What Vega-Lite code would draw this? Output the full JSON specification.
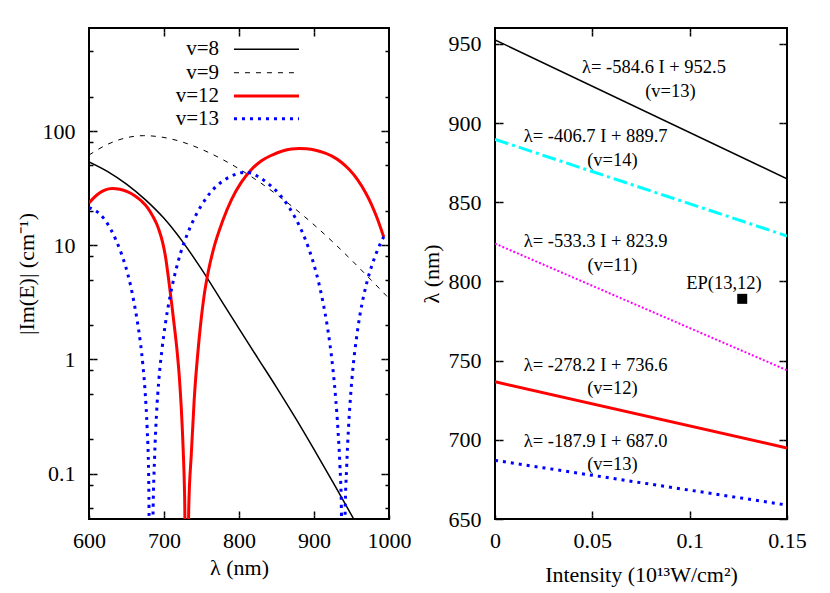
{
  "$schema": "https://vega.github.io/schema/vega-lite/v6.json",
  "background": "white",
  "padding": {"left": 14, "top": 26, "right": 5, "bottom": 5},
  "spacing": 106,
  "bounds": "flush",
  "config": {
    "font": "Liberation Serif",
    "view": {"stroke": "black", "strokeWidth": 2},
    "axis": {"grid": false, "domain": false, "ticks": true, "labelFont": "Liberation Serif", "labelFontSize": 22, "labelColor": "black", "titleFont": "Liberation Serif", "titleFontSize": 22, "titleFontWeight": "normal", "titleColor": "black", "tickColor": "black", "tickWidth": 1.5, "tickOpacity": 1, "labelFlush": false, "labelOverlap": false, "labelBound": false}
  },
  "datasets": {
    "curves": [
      {"s":"v=8","x":600,"y":53.8},{"s":"v=8","x":625,"y":44.2},{"s":"v=8","x":650,"y":34.3},{"s":"v=8","x":675,"y":25.1},{"s":"v=8","x":700,"y":17.2},{"s":"v=8","x":725,"y":10.7},{"s":"v=8","x":750,"y":6.17},{"s":"v=8","x":775,"y":3.39},{"s":"v=8","x":800,"y":1.86},{"s":"v=8","x":825,"y":1.028},{"s":"v=8","x":850,"y":0.57},{"s":"v=8","x":875,"y":0.309},{"s":"v=8","x":900,"y":0.163},{"s":"v=8","x":925,"y":0.0847},{"s":"v=8","x":950,"y":0.0433},{"s":"v=8","x":975,"y":0.0218},
      {"s":"v=9","x":600,"y":61.7},{"s":"v=9","x":625,"y":76.7},{"s":"v=9","x":640,"y":83.9},{"s":"v=9","x":656,"y":89.1},{"s":"v=9","x":673,"y":91.2},{"s":"v=9","x":700,"y":87.9},{"s":"v=9","x":725,"y":80.0},{"s":"v=9","x":750,"y":69.3},{"s":"v=9","x":775,"y":57.8},{"s":"v=9","x":800,"y":46.7},{"s":"v=9","x":825,"y":36.6},{"s":"v=9","x":850,"y":27.9},{"s":"v=9","x":875,"y":20.8},{"s":"v=9","x":900,"y":15.1},{"s":"v=9","x":925,"y":10.7},{"s":"v=9","x":950,"y":7.41},{"s":"v=9","x":975,"y":5.05},{"s":"v=9","x":1000,"y":3.42},
      {"s":"v=12","x":600,"y":23.4},{"s":"v=12","x":607,"y":26.3},{"s":"v=12","x":614,"y":28.7},{"s":"v=12","x":621,"y":30.4},{"s":"v=12","x":631,"y":31.4},{"s":"v=12","x":641,"y":30.9},{"s":"v=12","x":651,"y":29.5},{"s":"v=12","x":661,"y":27.2},{"s":"v=12","x":670,"y":24.4},{"s":"v=12","x":678,"y":21.4},{"s":"v=12","x":685,"y":18.0},{"s":"v=12","x":690,"y":15.5},{"s":"v=12","x":694,"y":13.2},{"s":"v=12","x":698,"y":10.7},{"s":"v=12","x":702,"y":7.94},{"s":"v=12","x":706,"y":5.13},{"s":"v=12","x":710,"y":3.16},{"s":"v=12","x":714,"y":1.905},{"s":"v=12","x":717.5,"y":1.175},{"s":"v=12","x":720.5,"y":0.692},{"s":"v=12","x":723,"y":0.38},{"s":"v=12","x":725.5,"y":0.166},{"s":"v=12","x":727.5,"y":0.063},{"s":"v=12","x":730.5,"y":0.001},{"s":"v=12","x":733,"y":0.05},{"s":"v=12","x":736.4,"y":0.148},{"s":"v=12","x":740.2,"y":0.437},{"s":"v=12","x":746.7,"y":1.479},{"s":"v=12","x":753.3,"y":3.55},{"s":"v=12","x":760,"y":6.31},{"s":"v=12","x":767,"y":9.77},{"s":"v=12","x":778,"y":16.2},{"s":"v=12","x":790,"y":25.1},{"s":"v=12","x":803,"y":35.5},{"s":"v=12","x":816,"y":45.7},{"s":"v=12","x":830,"y":55.0},{"s":"v=12","x":844,"y":61.7},{"s":"v=12","x":858,"y":67.0},{"s":"v=12","x":870,"y":69.7},{"s":"v=12","x":880,"y":70.5},{"s":"v=12","x":890,"y":70.0},{"s":"v=12","x":902,"y":68.0},{"s":"v=12","x":914,"y":64.5},{"s":"v=12","x":924,"y":60.3},{"s":"v=12","x":936,"y":53.6},{"s":"v=12","x":947,"y":46.0},{"s":"v=12","x":958,"y":37.6},{"s":"v=12","x":969,"y":28.7},{"s":"v=12","x":977,"y":22.5},{"s":"v=12","x":984,"y":17.4},{"s":"v=12","x":993,"y":11.8},
      {"s":"v=13","x":600,"y":21.4},{"s":"v=13","x":608,"y":20.2},{"s":"v=13","x":615,"y":18.6},{"s":"v=13","x":622,"y":16.4},{"s":"v=13","x":629,"y":13.8},{"s":"v=13","x":636,"y":11.1},{"s":"v=13","x":643,"y":8.51},{"s":"v=13","x":649,"y":6.46},{"s":"v=13","x":655,"y":4.57},{"s":"v=13","x":660,"y":3.16},{"s":"v=13","x":664.5,"y":2.14},{"s":"v=13","x":668.5,"y":1.41},{"s":"v=13","x":672,"y":0.871},{"s":"v=13","x":675,"y":0.501},{"s":"v=13","x":677.5,"y":0.251},{"s":"v=13","x":679.5,"y":0.1},{"s":"v=13","x":682.5,"y":0.001},{"s":"v=13","x":685.5,"y":0.0501},{"s":"v=13","x":687.5,"y":0.141},{"s":"v=13","x":690,"y":0.331},{"s":"v=13","x":693,"y":0.646},{"s":"v=13","x":697,"y":1.175},{"s":"v=13","x":702,"y":2.09},{"s":"v=13","x":708,"y":3.55},{"s":"v=13","x":715,"y":5.75},{"s":"v=13","x":722,"y":8.51},{"s":"v=13","x":730,"y":12.0},{"s":"v=13","x":740,"y":17.0},{"s":"v=13","x":750,"y":22.4},{"s":"v=13","x":760,"y":27.9},{"s":"v=13","x":772,"y":33.9},{"s":"v=13","x":785,"y":38.9},{"s":"v=13","x":797,"y":42.2},{"s":"v=13","x":807,"y":43.5},{"s":"v=13","x":816,"y":42.9},{"s":"v=13","x":826,"y":39.8},{"s":"v=13","x":836,"y":35.9},{"s":"v=13","x":846,"y":31.6},{"s":"v=13","x":856,"y":26.9},{"s":"v=13","x":866,"y":21.9},{"s":"v=13","x":875,"y":17.4},{"s":"v=13","x":884,"y":13.2},{"s":"v=13","x":892,"y":9.77},{"s":"v=13","x":899,"y":7.08},{"s":"v=13","x":906,"y":4.79},{"s":"v=13","x":912,"y":3.16},{"s":"v=13","x":917,"y":2.09},{"s":"v=13","x":921.5,"y":1.32},{"s":"v=13","x":925.5,"y":0.794},{"s":"v=13","x":929,"y":0.447},{"s":"v=13","x":932,"y":0.24},{"s":"v=13","x":934.5,"y":0.12},{"s":"v=13","x":936.5,"y":0.0501},{"s":"v=13","x":939,"y":0.001},{"s":"v=13","x":941.5,"y":0.0447},{"s":"v=13","x":943.5,"y":0.112},{"s":"v=13","x":946,"y":0.251},{"s":"v=13","x":949,"y":0.501},{"s":"v=13","x":952.5,"y":0.912},{"s":"v=13","x":956.5,"y":1.51},{"s":"v=13","x":961,"y":2.4},{"s":"v=13","x":966,"y":3.55},{"s":"v=13","x":971.5,"y":5.01},{"s":"v=13","x":977.5,"y":6.76},{"s":"v=13","x":984.5,"y":9.02},{"s":"v=13","x":993,"y":11.9}
    ],
    "keys": [
      {"s":"v=8","y":520.9},{"s":"v=9","y":324.6},{"s":"v=12","y":202.8},{"s":"v=13","y":128.2}
    ],
    "fits": [
      {"k":"a","I":0,"lam":952.5},{"k":"a","I":0.15,"lam":864.81},
      {"k":"b","I":0,"lam":889.7},{"k":"b","I":0.15,"lam":828.695},
      {"k":"c","I":0,"lam":823.9},{"k":"c","I":0.15,"lam":743.905},
      {"k":"d","I":0,"lam":736.6},{"k":"d","I":0.15,"lam":694.87},
      {"k":"e","I":0,"lam":687.0},{"k":"e","I":0.15,"lam":658.815}
    ],
    "notes": [
      {"t":"λ= -584.6 I + 952.5","I":0.0817,"lam":935.3},
      {"t":"(v=13)","I":0.0901,"lam":920.4},
      {"t":"λ= -406.7 I + 889.7","I":0.0517,"lam":891.6},
      {"t":"(v=14)","I":0.0603,"lam":876.8},
      {"t":"λ= -533.3 I + 823.9","I":0.0517,"lam":825.5},
      {"t":"(v=11)","I":0.0603,"lam":810.1},
      {"t":"λ= -278.2 I + 736.6","I":0.0517,"lam":747.5},
      {"t":"(v=12)","I":0.0603,"lam":732.7},
      {"t":"λ= -187.9 I + 687.0","I":0.0517,"lam":699.4},
      {"t":"(v=13)","I":0.0603,"lam":684.8},
      {"t":"EP(13,12)","I":0.1176,"lam":799.2}
    ],
    "ep": [{"I":0.127,"lam":789}]
  },
  "hconcat": [
    {
      "width": 300,
      "height": 491,
      "resolve": {"scale": {"x": "shared", "y": "shared"}, "axis": {"x": "independent", "y": "independent"}},
      "layer": [
        {
          "data": {"name": "keys"},
          "transform": [{"filter": "datum.s == 'v=8'"}],
          "mark": {"type": "rule", "color": "black", "strokeWidth": 1.5},
          "encoding": {"x": {"datum": 793.3, "type": "quantitative", "scale": {"domain": [600, 1000], "nice": false, "zero": false}, "axis": null}, "x2": {"datum": 880}, "y": {"field": "y", "type": "quantitative", "scale": {"type": "log", "domain": [0.04, 800], "nice": false}, "axis": null}}
        },
        {
          "data": {"name": "keys"},
          "transform": [{"filter": "datum.s == 'v=9'"}],
          "mark": {"type": "rule", "color": "black", "strokeWidth": 1, "strokeDash": [5, 6]},
          "encoding": {"x": {"datum": 793.3, "type": "quantitative", "axis": null}, "x2": {"datum": 880}, "y": {"field": "y", "type": "quantitative", "axis": null}}
        },
        {
          "data": {"name": "keys"},
          "transform": [{"filter": "datum.s == 'v=12'"}],
          "mark": {"type": "rule", "color": "#ff0000", "strokeWidth": 3},
          "encoding": {"x": {"datum": 793.3, "type": "quantitative", "axis": null}, "x2": {"datum": 880}, "y": {"field": "y", "type": "quantitative", "axis": null}}
        },
        {
          "data": {"name": "keys"},
          "transform": [{"filter": "datum.s == 'v=13'"}],
          "mark": {"type": "rule", "color": "#0000ff", "strokeWidth": 3, "strokeDash": [3, 5]},
          "encoding": {"x": {"datum": 793.3, "type": "quantitative", "axis": null}, "x2": {"datum": 880}, "y": {"field": "y", "type": "quantitative", "axis": null}}
        },
        {
          "data": {"name": "keys"},
          "mark": {"type": "text", "align": "right", "baseline": "middle", "fontSize": 21, "font": "Liberation Serif", "color": "black"},
          "encoding": {"x": {"datum": 773.3, "type": "quantitative", "axis": null}, "y": {"field": "y", "type": "quantitative", "axis": null}, "text": {"field": "s"}}
        },
        {
          "data": {"name": "curves"},
          "transform": [{"filter": "datum.s == 'v=8'"}],
          "mark": {"type": "line", "interpolate": "monotone", "clip": true, "color": "black", "strokeWidth": 1.5},
          "encoding": {
            "x": {"field": "x", "type": "quantitative",
                  "axis": {"orient": "bottom", "values": [600, 700, 800, 900, 1000], "format": "d", "offset": -4, "tickSize": 4, "ticks": true, "labelPadding": 11, "labelFont": "Liberation Serif", "titleFont": "Liberation Serif", "title": "λ (nm)", "titlePadding": 6}},
            "y": {"field": "y", "type": "quantitative", "axis": null}
          }
        },
        {
          "data": {"name": "curves"},
          "transform": [{"filter": "datum.s == 'v=9'"}],
          "mark": {"type": "line", "interpolate": "monotone", "clip": true, "color": "black", "strokeWidth": 1, "strokeDash": [5, 6]},
          "encoding": {
            "x": {"field": "x", "type": "quantitative",
                  "axis": {"orient": "top", "values": [700, 800, 900], "labels": false, "offset": -4, "tickSize": 4, "ticks": true, "title": null}},
            "y": {"field": "y", "type": "quantitative", "axis": null}
          }
        },
        {
          "data": {"name": "curves"},
          "transform": [{"filter": "datum.s == 'v=12'"}],
          "mark": {"type": "line", "interpolate": "monotone", "clip": true, "color": "#ff0000", "strokeWidth": 3},
          "encoding": {
            "x": {"field": "x", "type": "quantitative", "axis": null},
            "y": {"field": "y", "type": "quantitative",
                  "axis": {"orient": "left", "values": [0.1, 1, 10, 100], "format": "~g", "offset": -4, "tickSize": 4, "ticks": true, "labelPadding": 14, "labelFont": "Liberation Serif", "titleFont": "Liberation Serif", "title": "|Im(E)| (cm⁻¹)", "titlePadding": 4}}
          }
        },
        {
          "data": {"name": "curves"},
          "transform": [{"filter": "datum.s == 'v=13'"}],
          "mark": {"type": "line", "interpolate": "monotone", "clip": true, "color": "#0000ff", "strokeWidth": 3, "strokeDash": [3, 5]},
          "encoding": {
            "x": {"field": "x", "type": "quantitative", "axis": null},
            "y": {"field": "y", "type": "quantitative",
                  "axis": {"orient": "right", "values": [0.1, 1, 10, 100], "labels": false, "offset": -4, "tickSize": 4, "ticks": true, "title": null}}
          }
        },
        {
          "data": {"name": "keys"},
          "mark": {"type": "point", "opacity": 0},
          "encoding": {
            "x": {"datum": 793.3, "type": "quantitative", "axis": null},
            "y": {"field": "y", "type": "quantitative",
                  "axis": {"orient": "left", "values": [0.05, 0.08, 0.2, 0.5, 0.8, 2, 5, 8, 20, 50, 80, 200, 500], "labels": false, "offset": -4, "tickSize": 4, "ticks": true, "title": null}}
          }
        },
        {
          "data": {"name": "keys"},
          "mark": {"type": "point", "opacity": 0},
          "encoding": {
            "x": {"datum": 793.3, "type": "quantitative", "axis": null},
            "y": {"field": "y", "type": "quantitative",
                  "axis": {"orient": "right", "values": [0.05, 0.08, 0.2, 0.5, 0.8, 2, 5, 8, 20, 50, 80, 200, 500], "labels": false, "offset": -4, "tickSize": 4, "ticks": true, "title": null}}
          }
        },
        {
          "data": {"name": "keys"},
          "mark": {"type": "point", "opacity": 0},
          "encoding": {
            "x": {"datum": 793.3, "type": "quantitative", "axis": null},
            "y": {"field": "y", "type": "quantitative",
                  "axis": {"orient": "left", "values": [0.1, 1, 10, 100], "labels": false, "offset": -8, "tickSize": 4, "ticks": true, "title": null}}
          }
        },
        {
          "data": {"name": "keys"},
          "mark": {"type": "point", "opacity": 0},
          "encoding": {
            "x": {"datum": 793.3, "type": "quantitative", "axis": null},
            "y": {"field": "y", "type": "quantitative",
                  "axis": {"orient": "right", "values": [0.1, 1, 10, 100], "labels": false, "offset": -8, "tickSize": 4, "ticks": true, "title": null}}
          }
        },
        {
          "data": {"name": "curves"},
          "transform": [{"filter": "datum.s == 'v=9'"}],
          "mark": {"type": "point", "opacity": 0, "clip": true},
          "encoding": {
            "x": {"field": "x", "type": "quantitative",
                  "axis": {"orient": "bottom", "values": [700, 800, 900], "labels": false, "offset": -8, "tickSize": 4, "ticks": true, "title": null}},
            "y": {"field": "y", "type": "quantitative", "axis": null}
          }
        },
        {
          "data": {"name": "curves"},
          "transform": [{"filter": "datum.s == 'v=9'"}],
          "mark": {"type": "point", "opacity": 0, "clip": true},
          "encoding": {
            "x": {"field": "x", "type": "quantitative",
                  "axis": {"orient": "top", "values": [700, 800, 900], "labels": false, "offset": -8, "tickSize": 4, "ticks": true, "title": null}},
            "y": {"field": "y", "type": "quantitative", "axis": null}
          }
        }
      ]
    },
    {
      "width": 292,
      "height": 491,
      "resolve": {"scale": {"x": "shared", "y": "shared"}, "axis": {"x": "independent", "y": "independent"}},
      "layer": [
        {
          "data": {"name": "notes"},
          "mark": {"type": "text", "align": "center", "baseline": "middle", "fontSize": 18.5, "font": "Liberation Serif", "color": "black"},
          "encoding": {
            "x": {"field": "I", "type": "quantitative", "scale": {"domain": [0, 0.15], "nice": false, "zero": false}, "axis": null},
            "y": {"field": "lam", "type": "quantitative", "scale": {"domain": [650, 960], "nice": false, "zero": false}, "axis": null},
            "text": {"field": "t"}
          }
        },
        {
          "data": {"name": "ep"},
          "mark": {"type": "point", "shape": "square", "filled": true, "size": 100, "color": "black", "opacity": 1},
          "encoding": {
            "x": {"field": "I", "type": "quantitative", "axis": null},
            "y": {"field": "lam", "type": "quantitative", "axis": null}
          }
        },
        {
          "data": {"name": "fits"},
          "transform": [{"filter": "datum.k == 'a'"}],
          "mark": {"type": "line", "clip": true, "color": "black", "strokeWidth": 1.5},
          "encoding": {
            "x": {"field": "I", "type": "quantitative",
                  "axis": {"orient": "bottom", "values": [0, 0.05, 0.1, 0.15], "format": ".2~f", "offset": -4, "tickSize": 4, "ticks": true, "labelPadding": 11, "labelFont": "Liberation Serif", "titleFont": "Liberation Serif", "title": "Intensity (10¹³W/cm²)", "titlePadding": 13}},
            "y": {"field": "lam", "type": "quantitative", "axis": null}
          }
        },
        {
          "data": {"name": "fits"},
          "transform": [{"filter": "datum.k == 'b'"}],
          "mark": {"type": "line", "clip": true, "color": "#00ffff", "strokeWidth": 3, "strokeDash": [14, 4, 3, 4]},
          "encoding": {
            "x": {"field": "I", "type": "quantitative",
                  "axis": {"orient": "top", "values": [0.05, 0.1], "labels": false, "offset": -4, "tickSize": 4, "ticks": true, "title": null}},
            "y": {"field": "lam", "type": "quantitative", "axis": null}
          }
        },
        {
          "data": {"name": "fits"},
          "transform": [{"filter": "datum.k == 'c'"}],
          "mark": {"type": "line", "clip": true, "color": "#ff00ff", "strokeWidth": 2, "strokeDash": [2, 2]},
          "encoding": {
            "x": {"field": "I", "type": "quantitative", "axis": null},
            "y": {"field": "lam", "type": "quantitative",
                  "axis": {"orient": "left", "values": [650, 700, 750, 800, 850, 900, 950], "format": "d", "offset": -4, "tickSize": 4, "ticks": true, "labelPadding": 14, "labelFont": "Liberation Serif", "titleFont": "Liberation Serif", "title": "λ (nm)", "titlePadding": 5}}
          }
        },
        {
          "data": {"name": "fits"},
          "transform": [{"filter": "datum.k == 'd'"}],
          "mark": {"type": "line", "clip": true, "color": "#ff0000", "strokeWidth": 3},
          "encoding": {
            "x": {"field": "I", "type": "quantitative", "axis": null},
            "y": {"field": "lam", "type": "quantitative",
                  "axis": {"orient": "right", "values": [650, 700, 750, 800, 850, 900, 950], "labels": false, "offset": -4, "tickSize": 4, "ticks": true, "title": null}}
          }
        },
        {
          "data": {"name": "fits"},
          "transform": [{"filter": "datum.k == 'e'"}],
          "mark": {"type": "line", "clip": true, "color": "#0000ff", "strokeWidth": 3, "strokeDash": [3, 5]},
          "encoding": {
            "x": {"field": "I", "type": "quantitative", "axis": null},
            "y": {"field": "lam", "type": "quantitative", "axis": null}
          }
        },
        {
          "data": {"name": "notes"},
          "mark": {"type": "point", "opacity": 0},
          "encoding": {
            "x": {"field": "I", "type": "quantitative", "axis": null},
            "y": {"field": "lam", "type": "quantitative",
                  "axis": {"orient": "left", "values": [650, 700, 750, 800, 850, 900, 950], "labels": false, "offset": -8, "tickSize": 4, "ticks": true, "title": null}}
          }
        },
        {
          "data": {"name": "notes"},
          "mark": {"type": "point", "opacity": 0},
          "encoding": {
            "x": {"field": "I", "type": "quantitative", "axis": null},
            "y": {"field": "lam", "type": "quantitative",
                  "axis": {"orient": "right", "values": [650, 700, 750, 800, 850, 900, 950], "labels": false, "offset": -8, "tickSize": 4, "ticks": true, "title": null}}
          }
        },
        {
          "data": {"name": "notes"},
          "mark": {"type": "point", "opacity": 0},
          "encoding": {
            "x": {"field": "I", "type": "quantitative",
                  "axis": {"orient": "bottom", "values": [0.05, 0.1], "labels": false, "offset": -8, "tickSize": 4, "ticks": true, "title": null}},
            "y": {"field": "lam", "type": "quantitative", "axis": null}
          }
        },
        {
          "data": {"name": "notes"},
          "mark": {"type": "point", "opacity": 0},
          "encoding": {
            "x": {"field": "I", "type": "quantitative",
                  "axis": {"orient": "top", "values": [0.05, 0.1], "labels": false, "offset": -8, "tickSize": 4, "ticks": true, "title": null}},
            "y": {"field": "lam", "type": "quantitative", "axis": null}
          }
        }
      ]
    }
  ]
}
